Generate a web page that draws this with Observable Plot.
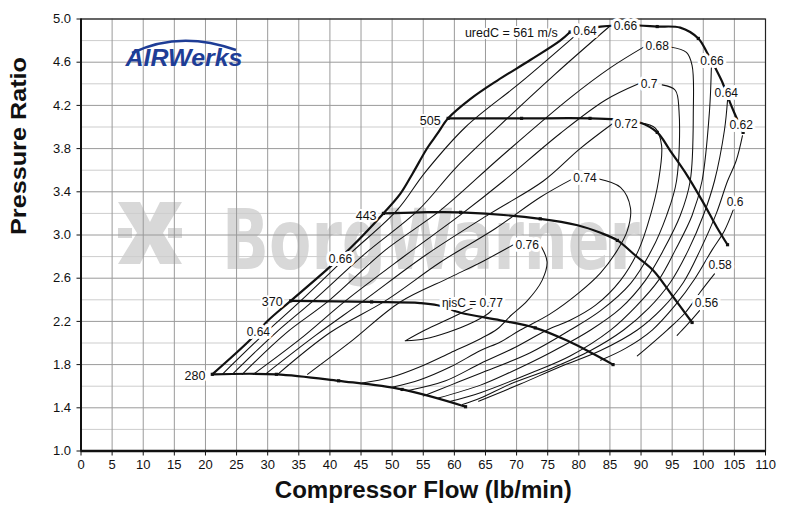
<!DOCTYPE html>
<html><head><meta charset="utf-8">
<script src="https://cdn.jsdelivr.net/npm/d3@7"></script>
<script src="https://cdn.jsdelivr.net/npm/@observablehq/plot@0.6"></script>
<style>body{margin:0;background:#fff} svg{display:block}</style>
</head><body><div id="chart"></div>
<script>
// ---- axes / ticks ----
const xTicks = [0,5,10,15,20,25,30,35,40,45,50,55,60,65,70,75,80,85,90,95,100,105,110];
const xGrid = [5,10,15,20,25,30,35,40,45,50,55,60,65,70,75,80,85,90,95,100,105];
const yTicks = [1.0,1.4,1.8,2.2,2.6,3.0,3.4,3.8,4.2,4.6,5.0];
const yMinor = [1.2,1.6,2.0,2.4,2.8,3.2,3.6,4.0,4.4,4.8];

// ---- speed lines (flow lb/min, pressure ratio) ----
const surge = [[21.1,1.71],[27.2,2.03],[30.1,2.21],[33.7,2.39],[40.1,2.71],[43.3,2.88],[48.6,3.20],[51.3,3.38],[53.3,3.57],[55.7,3.81],[57.3,3.94],[59.0,4.08],[62.6,4.26],[66.9,4.43],[72.2,4.62],[77.0,4.80],[78.6,4.88]];
const s280 = [[21.1,1.71],[31.4,1.71],[41.4,1.65],[51.6,1.57],[61.8,1.41]];
const s370 = [[33.7,2.39],[46.7,2.38],[54.5,2.37],[57.3,2.35],[61.0,2.28],[67.4,2.21],[73.0,2.14],[78.2,2.02],[82.3,1.90],[85.5,1.80]];
const s443 = [[48.6,3.20],[54.5,3.21],[61.0,3.21],[73.8,3.15],[79.8,3.09],[83.5,3.02],[86.2,2.95],[89.1,2.81],[92.0,2.67],[95.0,2.44],[98.2,2.19]];
const s505 = [[59.0,4.08],[70.8,4.08],[81.8,4.08],[85.9,4.07],[89.9,4.04],[92.6,3.95],[94.7,3.78],[97.1,3.58],[100.0,3.30],[102.2,3.07],[103.9,2.91]];
const s561 = [[78.6,4.88],[83.5,4.93],[85.9,4.94],[89.6,4.94],[92.6,4.93],[96.3,4.92],[99.2,4.82],[100.6,4.69],[101.9,4.55],[103.1,4.41],[104.0,4.27],[105.0,4.13],[106.4,3.95]];
const speedDots = [[21.1,1.71],[31.4,1.71],[41.4,1.65],[51.6,1.57],[61.8,1.41],
  [33.7,2.39],[46.7,2.38],[73.0,2.14],[85.5,1.80],
  [48.6,3.20],[61.0,3.21],[73.8,3.15],[86.2,2.95],[98.2,2.19],
  [59.0,4.08],[70.8,4.08],[81.8,4.08],[92.6,3.95],[103.9,2.91],
  [78.6,4.88],[92.6,4.93],[99.2,4.82],[106.4,3.95]];
const speedNames = ["280","370","443","505","uredC = 561 m/s"];
const speedLabelPos = [[20.0,1.69],[32.4,2.38],[47.5,3.18],[57.8,4.06],[76.6,4.87]];

// ---- efficiency islands (branches) ----
const e64a = [[22.7,1.71],[28.8,2.05],[35.3,2.39],[43.3,2.83],[50.8,3.23],[55.3,3.58],[61.8,4.00],[70.6,4.41],[79.1,4.83]];
const e64b = [[103.9,4.25],[103.4,3.97],[101.8,3.50],[100.0,3.18],[97.6,2.86],[94.7,2.56],[91.2,2.32],[87.2,2.12],[81.9,1.93],[75.4,1.76],[69.0,1.62],[64.2,1.49],[61.3,1.43]];
const e66a = [[24.3,1.71],[31.2,2.09],[37.3,2.39],[45.7,2.83],[54.2,3.23],[60.2,3.62],[67.4,4.02],[76.2,4.49],[85.1,4.94]];
const e66b = [[101.3,4.55],[101.0,4.15],[99.8,3.50],[98.2,3.18],[95.5,2.86],[92.8,2.58],[89.2,2.34],[85.1,2.12],[78.6,1.88],[72.2,1.72],[64.2,1.54],[59.4,1.46]];
const e68a = [[25.9,1.71],[32.9,2.09],[39.8,2.39],[48.9,2.86],[57.8,3.23],[67.4,3.72],[78.6,4.27],[85.1,4.55],[90.4,4.74]];
const e68b = [[94.7,4.74],[97.3,4.69],[98.2,4.57],[98.4,4.15],[97.9,3.50],[96.3,3.18],[93.6,2.86],[90.7,2.58],[86.7,2.32],[81.9,2.12],[75.4,1.91],[69.0,1.73],[64.2,1.61],[57.4,1.49]];
const e70a = [[27.7,1.71],[35.3,2.04],[42.5,2.39],[52.1,2.81],[61.3,3.20],[67.9,3.50],[77.0,3.94],[84.3,4.25],[89.6,4.40]];
const e70b = [[93.4,4.39],[95.5,4.34],[96.1,4.15],[95.7,3.50],[94.1,3.18],[91.7,2.86],[88.3,2.55],[83.5,2.30],[78.6,2.12],[72.2,1.91],[64.2,1.72],[59.4,1.61],[55.0,1.51]];
const e72a = [[29.6,1.71],[37.7,2.07],[45.4,2.39],[55.3,2.81],[65.8,3.20],[74.3,3.50],[80.2,3.80],[85.4,4.03]];
const e72b = [[89.9,4.04],[92.3,3.99],[93.3,3.83],[92.8,3.50],[91.5,3.18],[89.6,2.86],[86.7,2.58],[82.7,2.35],[78.6,2.21],[74.9,2.12],[69.8,1.96],[64.2,1.81],[58.6,1.65],[52.6,1.56]];
const e74a = [[31.6,1.71],[40.1,2.10],[48.9,2.39],[57.8,2.75],[66.6,3.06],[73.8,3.35],[79.0,3.52]];
const e74b = [[83.1,3.52],[86.7,3.44],[88.3,3.25],[87.8,3.04],[86.2,2.86],[83.5,2.65],[79.9,2.46],[75.4,2.27],[70.6,2.12],[67.4,2.01],[64.2,1.93],[59.4,1.78],[54.5,1.66],[50.0,1.59]];
const e76a = [[36.4,1.71],[43.3,2.01],[51.3,2.38],[59.4,2.61],[64.7,2.76],[69.5,2.91]];
const e76b = [[74.0,2.89],[74.9,2.75],[74.1,2.58],[71.7,2.39],[69.0,2.25],[66.9,2.13],[64.2,2.04],[59.4,1.91],[54.5,1.78],[49.7,1.68],[45.2,1.63]];
const e77 = [[52.1,2.02],[55.3,2.12],[59.0,2.22],[62.3,2.31],[65.0,2.37],[66.4,2.37],[65.8,2.29],[62.9,2.19],[59.0,2.10],[55.3,2.04],[52.1,2.02]];
const e62 = [[106.3,3.92],[105.3,3.69],[103.9,3.50],[102.1,3.20],[99.5,2.86],[96.8,2.56],[93.4,2.32],[89.4,2.12],[83.5,1.93],[77.0,1.78],[70.6,1.62],[63.9,1.46]];
const e60 = [[104.8,3.23],[103.4,3.04],[101.4,2.86],[98.7,2.60],[95.5,2.35],[91.8,2.12],[87.5,1.95],[83.5,1.84]];
const e58 = [[101.8,2.64],[99.5,2.47],[97.1,2.28],[94.2,2.12],[89.4,1.88]];
const e56 = [[99.4,2.30],[97.9,2.20],[96.6,2.12],[95.8,2.07]];

const effText = ["0.64","0.66","0.68","0.7","0.72","0.74","0.76","ηisC = 0.77","0.66","0.64","0.62","0.6","0.58","0.56","0.64","0.66"];
const effPos = [[81.0,4.89],[87.5,4.93],[92.6,4.75],[91.3,4.40],[87.6,4.03],[81.0,3.53],[71.7,2.91],[62.9,2.37],[101.4,4.61],[103.7,4.31],[106.1,4.02],[105.1,3.30],[102.7,2.72],[100.5,2.37],[28.5,2.10],[41.7,2.78]];

// ---- build tables ----
const asRows = (pts, id) => pts.map(([x, y]) => ({x, y, id}));
const speedRows = [surge, s280, s370, s443, s505, s561].flatMap((p, i) => asRows(p, "s" + i));
const effBranches = [e64a,e64b,e66a,e66b,e68a,e68b,e70a,e70b,e72a,e72b,e74a,e74b,e76a,e76b,e77,e62,e60,e58,e56];
const effRows = effBranches.flatMap((p, i) => asRows(p, "e" + i));
const dotRows = speedDots.map(([x, y]) => ({x, y}));
const speedLbl = speedNames.map((t, i) => ({t, x: speedLabelPos[i][0], y: speedLabelPos[i][1]}));
const effLbl = effText.map((t, i) => ({t, x: effPos[i][0], y: effPos[i][1]}));

const font = "'Liberation Sans', Arial, Helvetica, sans-serif";
const chart = Plot.plot({
  width: 800, height: 521,
  marginLeft: 80.5, marginRight: 35, marginTop: 18.5, marginBottom: 70.5,
  x: {domain: [0, 110]},
  y: {domain: [1, 5]},
  style: {fontFamily: font, background: "#fff", color: "#111"},
  marks: [
    Plot.text(["BorgWarner"], {frameAnchor: "top-left", dx: 141, dy: 250, lineAnchor: "bottom", textAnchor: "start",
      fontSize: 84, fontWeight: 900, fontFamily: "'DejaVu Sans', sans-serif", fill: "#d8d8d8"}),
    Plot.ruleY(yMinor, {stroke: "#cdcdcd", strokeWidth: 1}),
    Plot.ruleY(yTicks, {stroke: "#9a9a9a", strokeWidth: 1}),
    Plot.ruleX(xGrid, {stroke: "#9a9a9a", strokeWidth: 1}),
    Plot.frame({stroke: "#222", strokeWidth: 1.2}),
    Plot.axisX({ticks: xTicks, tickSize: 5, tickPadding: 4, fontSize: 13, label: null, tickFormat: d => String(d)}),
    Plot.axisY({ticks: yTicks, tickSize: 4, tickPadding: 6, fontSize: 13, label: null, tickFormat: d3.format(".1f")}),
    Plot.ruleX([0], {stroke: "#111", strokeWidth: 2}),
    Plot.ruleY([1], {stroke: "#111", strokeWidth: 2.5}),
    Plot.line(effRows, {x: "x", y: "y", z: "id", curve: "catmull-rom", stroke: "#111", strokeWidth: 1.05}),
    Plot.line(speedRows, {x: "x", y: "y", z: "id", curve: "catmull-rom", stroke: "#111", strokeWidth: 2.2}),
    Plot.dot(dotRows, {x: "x", y: "y", symbol: "square", r: 1.8, fill: "#111"}),
    Plot.text(effLbl, {x: "x", y: "y", text: "t", fontSize: 12, fill: "#111", stroke: "#fff", strokeWidth: 6}),
    Plot.text(speedLbl, {x: "x", y: "y", text: "t", fontSize: 12.5, textAnchor: "end", fill: "#111", stroke: "#fff", strokeWidth: 4}),
    Plot.text(["AIRWerks"], {frameAnchor: "top-left", dx: 44.5, dy: 47, lineAnchor: "bottom", textAnchor: "start",
      fontSize: 23, fontWeight: "bold", fontStyle: "italic", fill: "#1e3d96"}),
    Plot.text(["Compressor Flow (lb/min)"], {frameAnchor: "bottom", dy: 47, fontSize: 23, fontWeight: "bold", fill: "#111"}),
    Plot.text(["Pressure Ratio"], {frameAnchor: "left", dx: -62, rotate: -90, fontSize: 22, fontWeight: "bold", fill: "#111"})
  ]
});
document.getElementById("chart").appendChild(chart);
const svg = d3.select(chart);
const fit = {"BorgWarner": 418, "AIRWerks": 117, "Compressor Flow (lb/min)": 297, "Pressure Ratio": 178};
svg.selectAll("text, tspan").each(function() {
  const t = this.textContent;
  if (fit[t]) d3.select(this).attr("textLength", fit[t]).attr("lengthAdjust", "spacingAndGlyphs");
});
// BorgWarner emblem (decorative watermark) placed behind the grid
const emblem = svg.insert("g", ":first-child").attr("fill", "#d8d8d8").attr("stroke", "none");
emblem.append("path").attr("d", "M118,202 L140,202 L150,222 L160,202 L182,202 L163,233 L182,264 L160,264 L150,244 L140,264 L118,264 L137,233 Z");
emblem.append("rect").attr("x", 118).attr("y", 228).attr("width", 14).attr("height", 10);
emblem.append("rect").attr("x", 168).attr("y", 228).attr("width", 14).attr("height", 10);
svg.insert("rect", ":first-child").attr("width", 800).attr("height", 521).attr("fill", "#fff");
// logo swoosh over AIRWerks
svg.append("path").attr("d", "M132,53 Q180,30 236,50").attr("fill", "none").attr("stroke", "#1e3d96").attr("stroke-width", 2.5);
</script></body></html>
